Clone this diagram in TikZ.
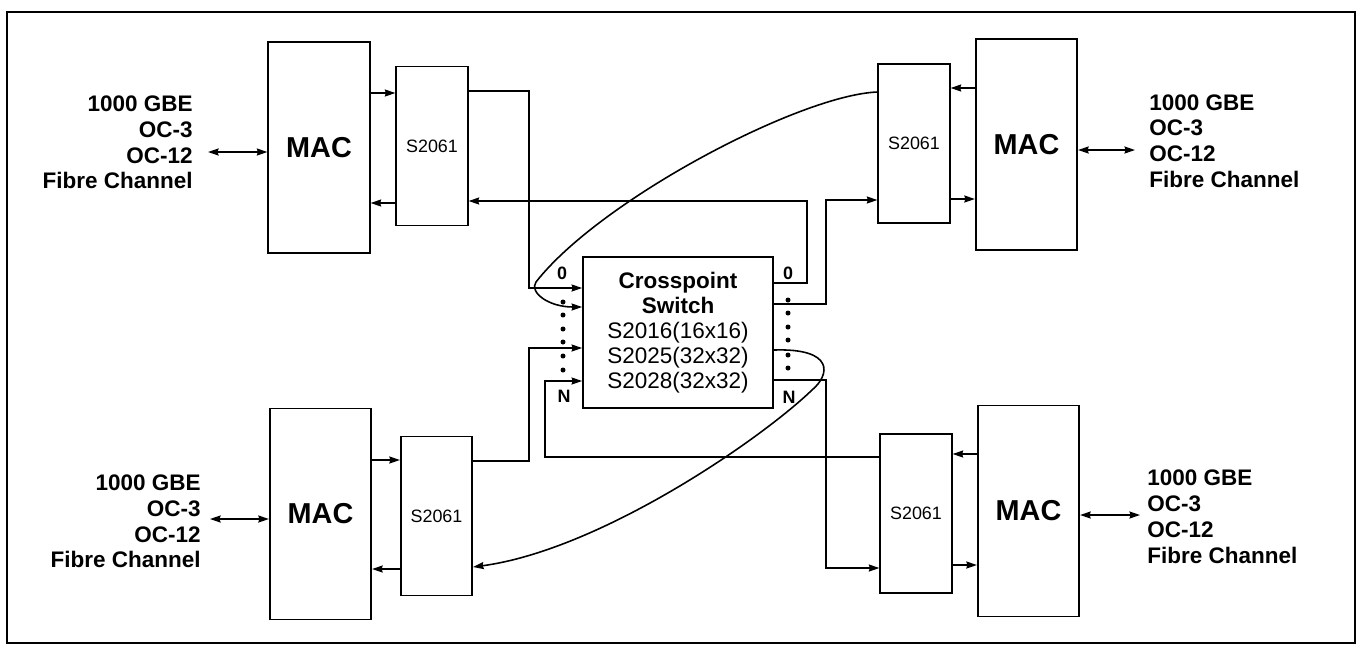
\documentclass[tikz,border=0pt]{standalone}
\usepackage{fontspec}
\setmainfont{Liberation Sans}
\usetikzlibrary{arrows.meta, positioning, calc}

\begin{document}
\begin{tikzpicture}[
    x=0.02cm, y=-0.02cm,
    mac/.style={rectangle, draw, line width=1pt, minimum width=2.03cm, minimum height=4.22cm,
                font=\bfseries\fontsize{16.4}{18}\selectfont},
    chip/.style={rectangle, draw, line width=1pt, minimum width=1.43cm, minimum height=3.18cm,
                 font=\fontsize{10.2}{12}\selectfont},
    iolabel/.style={inner sep=0pt, font=\bfseries\fontsize{12.8}{14.7}\selectfont},
    port/.style={inner sep=0pt, font=\bfseries\fontsize{10.2}{12}\selectfont},
    wire/.style={line width=0.9pt},
    arr/.style={-{Stealth[length=6pt, width=4pt, inset=0.6pt]}, line width=0.9pt},
    dbl/.style={{Stealth[length=6pt, width=4pt, inset=0.6pt]}-{Stealth[length=6pt, width=4pt, inset=0.6pt]}, line width=0.9pt}
]
\useasboundingbox (0,0) rectangle (1361,647);

% Frame
\draw[line width=1.4pt] (7,12) rectangle (1355,643);

% Blocks
\node[mac] (macTL) at (319,147.5) {MAC};
\node[chip] (sTL) at (432,146) {S2061};
\node[chip] (sTR) at (914,143.5) {S2061};
\node[mac] (macTR) at (1026.5,144.5) {MAC};
\node[mac] (macBL) at (320.5,514) {MAC};
\node[chip] (sBL) at (436.5,516) {S2061};
\node[chip] (sBR) at (916,513.5) {S2061};
\node[mac] (macBR) at (1028.5,511) {MAC};

% Switch
\node[rectangle, draw, line width=1pt, minimum width=3.8cm, minimum height=3.02cm,
      align=center, font=\fontsize{12.8}{14.2}\selectfont] (xbar) at (678,332.5)
      {\textbf{Crosspoint}\\\textbf{Switch}\\S2016(16x16)\\S2025(32x32)\\S2028(32x32)};

% Interfaces
\node[iolabel, align=right, anchor=east] (ioTL) at (193,142.5) {1000 GBE\\OC-3\\OC-12\\Fibre Channel};
\node[iolabel, align=left, anchor=west] (ioTR) at (1149,141) {1000 GBE\\OC-3\\OC-12\\Fibre Channel};
\node[iolabel, align=right, anchor=east] (ioBL) at (201,521.5) {1000 GBE\\OC-3\\OC-12\\Fibre Channel};
\node[iolabel, align=left, anchor=west] (ioBR) at (1147,516.5) {1000 GBE\\OC-3\\OC-12\\Fibre Channel};

\coordinate (pTL) at (208,152);
\coordinate (pTR) at (1135,150);
\coordinate (pBL) at (210,519);
\coordinate (pBR) at (1140,515);
\draw[dbl] (pTL) -- (pTL -| macTL.west);
\draw[dbl] (macTR.east |- pTR) -- (pTR);
\draw[dbl] (pBL) -- (pBL -| macBL.west);
\draw[dbl] (macBR.east |- pBR) -- (pBR);

% MAC <-> S2061
\draw[arr] (macTL.east |- 0,93) -- (sTL.west |- 0,93);
\draw[arr] (sTL.west |- 0,203) -- (macTL.east |- 0,203);
\draw[arr] (macTR.west |- 0,88) -- (sTR.east |- 0,88);
\draw[arr] (sTR.east |- 0,199) -- (macTR.west |- 0,199);
\draw[arr] (macBL.east |- 0,460) -- (sBL.west |- 0,460);
\draw[arr] (sBL.west |- 0,569) -- (macBL.east |- 0,569);
\draw[arr] (macBR.west |- 0,454) -- (sBR.east |- 0,454);
\draw[arr] (sBR.east |- 0,565) -- (macBR.west |- 0,565);

% Switch inputs
\draw[arr] (sTL.east |- 0,91) -| (529,288) -- (xbar.west |- 0,288);
\draw[arr] (sTR.west |- 0,92) .. controls (800,95) and (600,200) .. (536,282)
           .. controls (529,292) and (548,307) .. (xbar.west |- 0,307);
\draw[arr] (sBL.east |- 0,461) -| (529,348) -- (xbar.west |- 0,348);
\draw[arr] (sBR.west |- 0,457) -| (545,381) -- (xbar.west |- 0,381);

% Switch outputs
\draw[arr] (xbar.east |- 0,283) -| (807,201) -- (sTL.east |- 0,201);
\draw[arr] (xbar.east |- 0,304) -| (826,200) -- (sTR.west |- 0,200);
\draw[arr] (xbar.east |- 0,350) .. controls (835,348) and (830,375) .. (812,390)
           .. controls (760,440) and (600,550) .. (sBL.east |- 0,567);
\draw[arr] (xbar.east |- 0,380) -| (826,568) -- (sBR.west |- 0,568);

% Ports
\node[port] (in0) at (562,273) {0};
\node[port] (inN) at (564,396) {N};
\node[port] (out0) at (788,273) {0};
\node[port] (outN) at (789,397) {N};
\foreach \y in {302,315,329,342,356,370}
    \fill (563,\y) circle (2.5);
\foreach \y in {300,313,327,340,355,368}
    \fill (788,\y) circle (2.5);

\end{tikzpicture}
\end{document}
